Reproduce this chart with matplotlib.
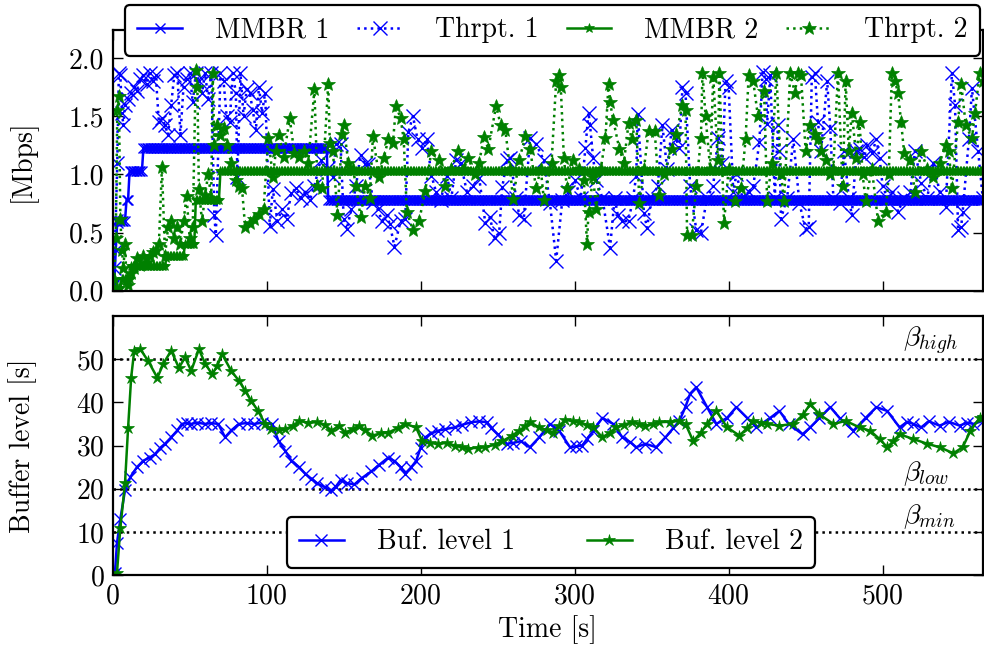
import numpy as np
import matplotlib
matplotlib.use("Agg")
import matplotlib.pyplot as plt

plt.rcParams['font.family'] = 'cmr10'
plt.rcParams['mathtext.fontset'] = 'cm'
plt.rcParams['axes.unicode_minus'] = False
plt.rcParams['axes.formatter.use_mathtext'] = True

# ---------------- data ----------------
t_end = 565
# MMBR (step functions): change times and levels, sampled every second
mmbr1_change_t = [0, 2, 3, 9, 11, 20, 140]
mmbr1_levels = [0.05, 0.35, 0.6, 0.78, 1.03, 1.23, 0.78]
mmbr2_change_t = [0, 6, 12, 35, 47, 54, 70]
mmbr2_levels = [0.02, 0.1, 0.21, 0.3, 0.4, 0.78, 1.03]

thr1_t = [0, 1, 2, 3, 4, 5, 6, 7, 8, 10, 12, 14, 16, 18, 20, 22, 24, 26, 28, 30, 32, 34, 36, 38, 40,
          42, 44, 46, 48, 50, 52, 54, 56, 58, 60, 62, 64, 66, 67, 70, 72, 74, 76, 78, 80, 81, 83, 85,
          87, 89, 91, 93, 95, 97, 99, 102, 104, 107, 110, 113, 116, 119, 122, 125, 128, 131, 135, 139,
          143, 145, 148, 150, 152, 155, 158, 161, 164, 166, 169, 172, 175, 178, 180, 183, 187, 190,
          192, 195, 198, 201, 204, 207, 210, 213, 217, 220, 223, 226, 230, 234, 238, 242, 245, 248,
          251, 253, 256, 258, 262, 264, 267, 271, 275, 280, 284, 288, 292, 296, 300, 304, 307, 309,
          310, 312, 314, 318, 323, 326, 328, 331, 335, 338, 340, 341, 345, 347, 350, 354, 357, 360,
          363, 366, 368, 370, 372, 375, 379, 382, 386, 390, 393, 396, 398, 400, 403, 405, 409, 413,
          416, 420, 422, 424, 425, 427, 430, 432, 433, 434, 438, 442, 446, 450, 452, 454, 456, 458,
          460, 464, 466, 468, 472, 475, 478, 480, 483, 485, 488, 490, 493, 496, 498, 500, 503, 506,
          510, 514, 518, 521, 525, 529, 533, 537, 541, 545, 547, 549, 551, 552, 556, 558, 562, 565]
thr1_v = [0.05, 0.2, 0.6, 1.1, 1.87, 1.85, 1.53, 1.42, 1.6, 1.65, 1.7, 1.75, 1.72, 1.82, 1.85, 1.78,
          1.87, 1.8, 1.85, 1.45, 1.48, 1.42, 1.34, 1.6, 1.85, 1.87, 1.34, 1.75, 1.82, 1.87, 1.62, 1.87,
          1.8, 1.7, 1.87, 1.65, 1.87, 0.65, 0.48, 1.87, 1.8, 1.5, 1.45, 1.87, 1.7, 0.98, 1.87, 1.5,
          1.73, 1.7, 1.55, 1.38, 1.75, 1.53, 1.7, 0.56, 0.87, 0.6, 0.7, 0.62, 0.84, 0.88, 0.8, 0.85,
          0.78, 0.9, 1.12, 1.05, 0.98, 1.26, 1.26, 0.62, 0.53, 0.7, 0.9, 1.17, 1.09, 1.09, 0.76, 0.7,
          0.6, 0.65, 0.57, 0.38, 0.6, 0.62, 1.36, 1.5, 1.3, 1.23, 1.3, 0.99, 0.85, 0.78, 0.99, 0.8,
          1.12, 1.1, 0.85, 0.9, 0.97, 0.58, 0.63, 0.45, 0.5, 0.89, 1.12, 1.14, 0.8, 0.65, 0.62, 1.31,
          1.26, 1.12, 0.75, 0.26, 0.78, 0.85, 0.95, 0.8, 1.23, 1.53, 1.42, 1.14, 0.95, 0.8, 0.37, 0.8,
          0.65, 0.6, 0.6, 0.8, 0.99, 1.52, 0.67, 0.54, 0.8, 0.9, 1.42, 1.05, 1.38, 1.3, 1.23, 1.75,
          1.7, 0.9, 0.52, 0.5, 0.8, 0.9, 1.31, 1.1, 1.8, 1.75, 0.85, 1.0, 0.8, 0.85, 0.9, 1.28, 1.88,
          1.82, 1.43, 1.85, 0.8, 1.42, 1.2, 0.62, 0.8, 1.3, 0.75, 0.53, 0.55, 1.84, 1.87, 1.45, 1.2,
          1.8, 1.4, 0.8, 0.75, 1.2, 0.8, 0.65, 1.2, 1.22, 1.15, 1.25, 1.18, 1.3, 1.14, 0.9, 0.8, 0.85,
          0.68, 0.8, 0.85, 1.2, 0.93, 0.8, 1.1, 0.85, 0.72, 1.87, 1.6, 0.52, 0.55, 0.68, 1.3, 1.74,
          1.2, 0.8]

thr2_t = [0, 1, 2, 3, 4, 5, 6, 7, 8, 9, 10, 12, 14, 16, 18, 20, 22, 24, 26, 28, 30, 32, 34, 36, 38,
          40, 42, 44, 46, 48, 50, 52, 54, 55, 56, 58, 60, 62, 64, 65, 66, 68, 70, 72, 74, 77, 80, 82,
          84, 86, 89, 92, 95, 98, 101, 104, 106, 108, 111, 115, 118, 121, 124, 127, 131, 133, 136,
          140, 141, 143, 146, 149, 150, 153, 156, 158, 161, 164, 167, 169, 173, 176, 179, 182, 184,
          187, 189, 191, 195, 199, 203, 207, 212, 216, 220, 224, 228, 231, 235, 238, 241, 244, 249,
          252, 255, 258, 260, 264, 268, 271, 275, 278, 280, 285, 288, 290, 291, 293, 295, 299, 303,
          306, 308, 309, 312, 314, 317, 320, 322, 323, 325, 329, 332, 335, 337, 340, 342, 345, 348,
          352, 355, 358, 363, 366, 370, 372, 373, 376, 379, 382, 383, 385, 388, 390, 393, 394, 397,
          400, 404, 408, 411, 413, 416, 419, 423, 425, 428, 431, 434, 436, 440, 443, 445, 447, 450,
          453, 456, 458, 460, 463, 466, 468, 471, 474, 476, 478, 480, 483, 485, 487, 489, 493, 497,
          502, 504, 506, 508, 510, 512, 514, 518, 521, 525, 529, 533, 537, 541, 543, 545, 549, 551,
          554, 558, 560, 563, 565]
thr2_v = [0.02, 0.1, 0.45, 1.55, 1.67, 0.62, 0.35, 0.2, 0.4, 0.1, 0.05, 0.15, 0.2, 0.28, 0.22, 0.3,
          0.25, 0.3, 0.33, 0.35, 0.4, 1.06, 0.3, 0.55, 0.6, 0.45, 0.55, 0.4, 0.6, 0.81, 0.45, 0.55,
          1.9, 1.75, 0.87, 0.6, 0.82, 1.0, 0.8, 1.87, 1.25, 1.42, 1.34, 1.4, 1.25, 1.1, 0.95, 0.9,
          0.88, 0.55, 0.58, 0.62, 0.66, 0.7, 1.31, 0.98, 1.2, 1.34, 1.15, 1.48, 1.18, 1.15, 1.2, 1.1,
          1.73, 0.9, 0.88, 1.78, 1.27, 1.2, 0.65, 1.35, 1.42, 1.1, 1.05, 0.9, 0.63, 0.9, 0.8, 1.33,
          0.98, 1.14, 1.3, 1.27, 1.59, 1.48, 1.3, 0.68, 0.52, 0.6, 0.86, 1.2, 1.12, 0.9, 1.05, 1.2,
          1.05, 1.14, 1.0, 1.1, 1.32, 1.22, 1.59, 1.42, 1.38, 1.05, 0.79, 1.12, 1.33, 1.22, 0.88,
          1.05, 0.78, 1.1, 1.8, 1.85, 1.75, 1.14, 0.88, 1.12, 1.05, 0.95, 0.4, 0.68, 0.98, 0.7, 1.05,
          1.31, 1.78, 1.62, 1.47, 1.22, 1.1, 1.44, 1.3, 1.47, 0.75, 1.05, 1.37, 1.37, 0.82, 1.0, 1.22,
          1.35, 1.6, 1.55, 0.48, 0.48, 0.9, 1.31, 1.87, 1.5, 1.05, 1.84, 1.12, 1.87, 0.58, 1.05, 0.77,
          0.88, 1.3, 1.85, 1.8, 1.5, 1.72, 0.77, 1.1, 1.87, 1.0, 0.77, 1.87, 1.7, 1.87, 1.85, 1.2,
          1.42, 1.35, 1.3, 1.2, 1.12, 1.0, 1.05, 1.87, 0.9, 1.8, 1.2, 1.53, 1.14, 1.45, 1.0, 0.77,
          1.05, 0.6, 0.68, 1.0, 1.87, 1.8, 1.7, 1.45, 1.18, 1.12, 0.85, 1.2, 1.05, 0.98, 1.1, 1.25,
          1.2, 0.88, 1.45, 1.78, 1.42, 1.31, 1.53, 1.87, 1.8]

buf1_t = [0, 1.5, 2.8, 5, 8, 11.5, 15.8, 20, 24, 27.5, 31, 34, 38, 42, 45, 48, 51, 55, 60, 64, 68.6,
          73, 77, 82, 87, 92, 97, 103.5, 107.7, 112, 116, 121, 125, 129, 133, 138, 142, 145, 148,
          152, 157, 162, 168, 173, 179, 183, 187, 190, 194, 197, 200, 203, 207, 211, 216, 222, 227,
          233, 238, 243, 246, 250, 256, 260, 265, 271, 277, 284, 290, 297, 301, 305, 308, 312, 318,
          325, 331, 336, 340, 346, 353, 359, 364, 368, 372, 375, 379, 386, 392, 399, 405, 412, 418,
          427, 433, 439, 448, 453, 459, 466, 472, 481, 489, 496, 503, 511, 516, 520, 525, 530, 537,
          543, 550, 555, 559, 565]
buf1_v = [0, 0.5, 7.4, 13, 19.6, 22.7, 25, 26.5, 27.2, 28, 29.5, 30.4, 31.9, 33.5, 35, 35.2, 35,
          35.3, 35, 35.2, 35, 31.9, 33.5, 35, 35.2, 35, 35.3, 35, 31, 28.8, 26.5, 25, 23.5, 22.3,
          21.2, 20.3, 19.6, 20.5, 22, 21.3, 21, 22.5, 24, 25.5, 27.2, 26.4, 25, 23.5, 25, 26.4, 29.5,
          31.9, 32.8, 33.4, 33.8, 34.2, 34.8, 35.4, 35.6, 35.4, 34, 32.6, 30.4, 30.6, 31, 29.6, 31.9,
          35, 33.4, 29.6, 29.8, 30, 31.5, 33.4, 36.4, 35, 31.9, 30.8, 29.6, 30.4, 29.6, 31.9, 34,
          35.7, 39, 42, 43.5, 38.9, 35, 36.4, 38.9, 36.4, 34.2, 36.4, 38, 35, 32.6, 34.2, 36.4, 38.9,
          36.4, 33.4, 36.4, 38.9, 38, 34.2, 35.5, 35, 34.2, 35.6, 34.6, 35.5, 34.6, 35.3, 35, 35.7]

buf2_t = [0, 2.8, 5, 8, 10, 12, 14, 18, 23, 29, 33, 38, 43, 47, 51, 56, 60, 64.6, 68, 71, 77, 82,
          86, 90, 94.5, 99, 103, 108, 112, 117, 121, 127, 133, 138, 142, 147, 151, 156, 160, 164,
          168.5, 174, 179, 185, 190, 197, 201, 206, 211, 217, 222, 227, 231, 237, 242, 248, 253, 259,
          264, 268, 271, 277, 282, 286, 290, 294, 299, 303, 308, 312, 318, 323, 327, 332, 337, 342,
          346, 351, 355, 362, 368, 372, 377, 382, 386, 392, 399, 407, 412, 416, 421, 425, 433, 442,
          448, 453, 459, 468, 476, 485, 492, 498, 503, 507, 511, 520, 529, 537, 546, 552, 557, 563,
          565]
buf2_v = [0, 0.5, 11, 21.2, 34, 45.7, 52, 52.3, 49.6, 45.7, 49, 52, 48, 50.4, 47.3, 52.3, 49,
          46.5, 48.5, 51.2, 47.3, 45, 42.7, 40.3, 38, 35, 33.8, 33.5, 33.8, 34.5, 35.7, 35.3, 35.4,
          34.8, 33.4, 34.6, 33, 33.8, 34.6, 33.5, 32.3, 32.8, 33, 34, 35, 34.2, 31, 30.6, 30.4, 30.6,
          30, 29.6, 29.3, 29.5, 29.6, 30.2, 31, 32.2, 33.4, 34.5, 35.4, 34.2, 33.5, 33, 34.5, 36,
          35.6, 35.4, 34.8, 34.2, 31.9, 33, 34.2, 34.8, 35.4, 35, 34.6, 35, 35.4, 35.5, 35.7, 35, 31,
          33, 35, 38, 34.2, 32.3, 34, 35.7, 35.3, 35, 34.6, 35, 37, 39.6, 37.2, 35, 35.7, 34.2, 33.4,
          31.5, 29.6, 31, 32.6, 31.5, 30.4, 29.6, 28.2, 29.6, 33.4, 36.4, 36.5]

thresholds = [50, 20, 10]
threshold_labels = [r'$\beta_{high}$', r'$\beta_{low}$', r'$\beta_{min}$']

# ---------------- expand step functions ----------------
tgrid = np.arange(0, t_end + 1)
def step_series(change_t, levels):
    idx = np.searchsorted(np.asarray(change_t), tgrid, side='right') - 1
    return np.asarray(levels)[idx]

mmbr1 = step_series(mmbr1_change_t, mmbr1_levels)
mmbr2 = step_series(mmbr2_change_t, mmbr2_levels)

# ---------------- plotting ----------------
fig = plt.figure(figsize=(9.84, 6.52), dpi=100)
ax1 = fig.add_axes([0.1145, 0.554, 0.8842, 0.400])
ax2 = fig.add_axes([0.1145, 0.1181, 0.8842, 0.3972], sharex=ax1)

fs = 20
blue = '#0000ff'
green = '#008000'

ax1.plot(tgrid, mmbr1, '-', color=blue, marker='x', ms=7.5, mew=1, lw=1.8, label='MMBR 1')
ax1.plot(thr1_t, thr1_v, ':', color=blue, marker='x', ms=10, mew=1, lw=1.8, label='Thrpt. 1')
ax1.plot(tgrid, mmbr2, '-', color=green, marker='*', ms=7.5, mew=0.5, lw=1.8, label='MMBR 2')
ax1.plot(thr2_t, thr2_v, ':', color=green, marker='*', ms=10, mew=0.5, lw=1.8, label='Thrpt. 2')

for th in thresholds:
    ax2.axhline(th, color='k', ls=':', lw=1.8, zorder=1)
for th, lab, off in zip(thresholds, threshold_labels, [0.4, 0.1, 0.1]):
    ax2.text(513, th + off, lab, fontsize=fs, va='bottom', ha='left')

ax2.plot(buf1_t, buf1_v, '-', color=blue, marker='x', ms=9, mew=1, lw=1.8, label='Buf. level 1')
ax2.plot(buf2_t, buf2_v, '-', color=green, marker='*', ms=9, mew=0.5, lw=1.8, label='Buf. level 2')

ax1.set_xlim(0, t_end)
ax1.set_ylim(0, 2.24)
ax2.set_ylim(0, 60)
ax1.set_yticks([0.0, 0.5, 1.0, 1.5, 2.0])
ax1.set_yticklabels(['0.0', '0.5', '1.0', '1.5', '2.0'])
ax2.set_yticks([0, 10, 20, 30, 40, 50])
ax2.set_xticks([0, 100, 200, 300, 400, 500])
plt.setp(ax1.get_xticklabels(), visible=False)

for ax in (ax1, ax2):
    ax.tick_params(direction='in', length=7, width=1, top=True, right=True, labelsize=fs, pad=6)
    for s in ax.spines.values():
        s.set_linewidth(1.6)

ax1.set_ylabel('[Mbps]', fontsize=fs)
ax2.set_ylabel('Buffer level [s]', fontsize=fs)
ax1.yaxis.set_label_coords(-0.087, 0.5)
ax2.yaxis.set_label_coords(-0.087, 0.5)
ax2.set_xlabel('Time [s]', fontsize=fs, labelpad=4)

leg1 = ax1.legend(loc='upper center', bbox_to_anchor=(0.5615, 0.993), bbox_transform=fig.transFigure,
                  ncol=4, fontsize=fs, fancybox=True, framealpha=1, edgecolor='k',
                  handlelength=1.6, columnspacing=1.0, handletextpad=1.2, borderpad=0.45,
                  borderaxespad=0.0)
leg1.get_frame().set_linewidth(1.6)
leg2 = ax2.legend(loc='lower center', bbox_to_anchor=(0.56, 0.129), bbox_transform=fig.transFigure,
                  ncol=2, fontsize=fs, fancybox=True, framealpha=1, edgecolor='k',
                  handlelength=1.6, columnspacing=2.6, handletextpad=1.2, borderpad=0.45,
                  borderaxespad=0.0)
leg2.get_frame().set_linewidth(1.6)

fig.savefig('out.png', dpi=100)
